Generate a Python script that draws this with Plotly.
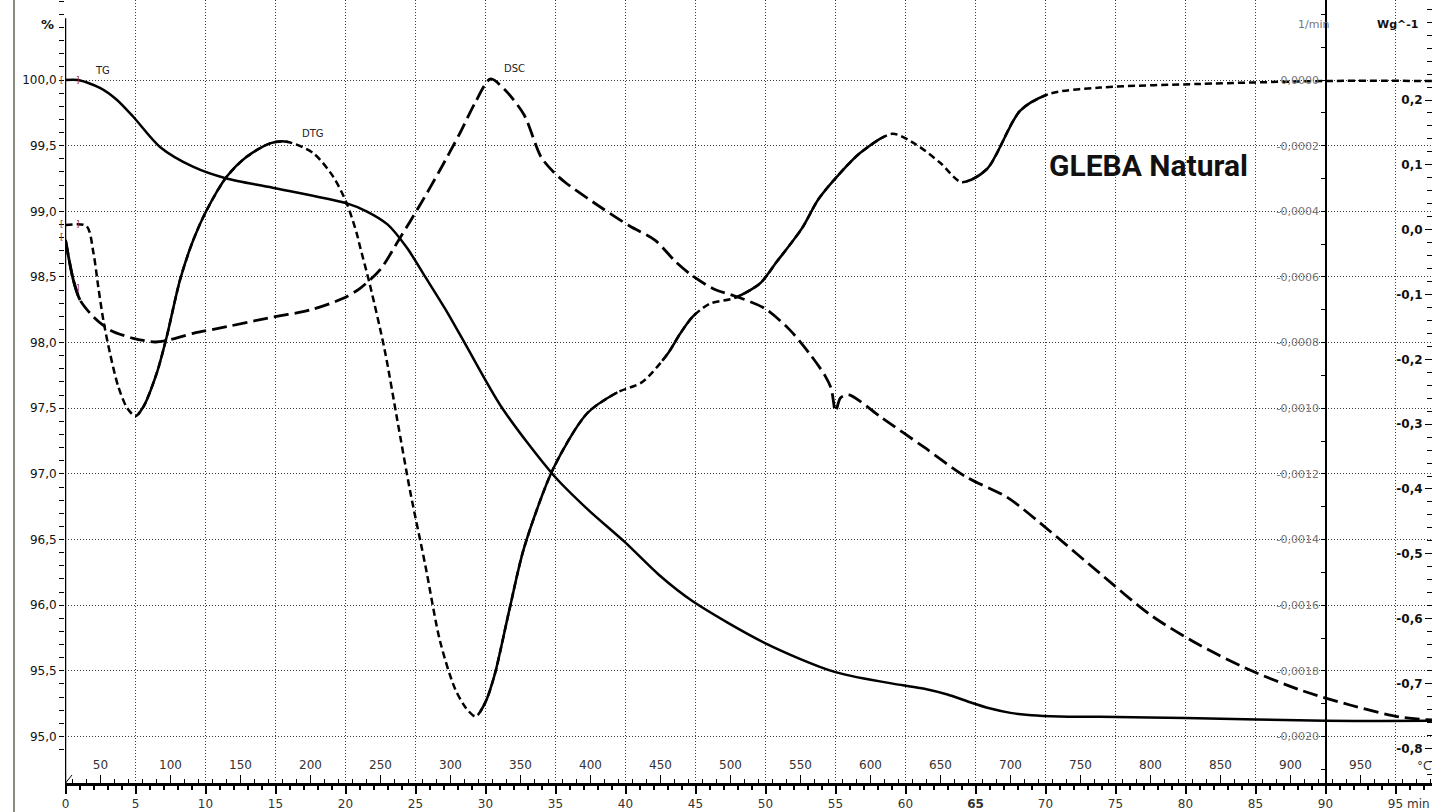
import plotly.graph_objects as go

# ------------------------------------------------------------------ data
TG_TIME = [0, 0.9, 2.46, 3.66, 4.84, 6.75, 9.1, 11.5, 14.8, 20.1, 21.5, 23.0, 24.4, 25.7,
           27.1, 28.5, 31.2, 34.86, 37.3, 39.96, 42.4, 44.8, 50.0, 55.0, 59.8, 61.5, 63.0,
           64.5, 66.0, 67.5, 69.0, 71.0, 73.9, 80.0, 90.0, 97.6]
TG_PCT = [100.0, 100.0, 99.94, 99.85, 99.72, 99.49, 99.34, 99.25, 99.18, 99.06, 99.0, 98.9,
          98.72, 98.5, 98.26, 98.0, 97.5, 96.99, 96.73, 96.48, 96.23, 96.03, 95.71, 95.49,
          95.39, 95.36, 95.32, 95.265, 95.215, 95.18, 95.162, 95.153, 95.15, 95.14, 95.12,
          95.12]

DTG_TIME = [0, 1.5, 2.0, 2.34, 2.7, 3.18, 3.77, 4.4, 5.0, 5.56, 6.51, 7.23, 8.18, 9.13, 10.09,
            11.51, 12.94, 14.61, 15.8, 17.7, 19.13, 20.09, 20.8, 21.04, 21.75, 22.8, 23.7,
            24.6, 25.7, 26.75, 27.8, 28.6, 29.3, 30.0, 30.66, 31.7, 32.75, 34.86, 37.25,
            39.4, 41.2, 42.96, 43.9, 44.8, 46.0, 47.8, 49.6, 50.8, 52.6, 53.8, 55.3, 56.8,
            59.06, 60.7, 62.5, 64.0, 65.8, 68.2, 70.3, 73.9, 81.0, 90.0, 97.6]
DTG_RATE = [-0.000442, -0.000445, -0.000528, -0.000630, -0.000731, -0.000833, -0.000934,
            -0.000999, -0.001024, -0.000996, -0.000894, -0.000782, -0.000609, -0.000487,
            -0.000396, -0.000295, -0.000234, -0.000193, -0.000188, -0.000223, -0.000295,
            -0.000376, -0.000467, -0.000508, -0.000625, -0.000823, -0.001036, -0.001249,
            -0.001478, -0.001709, -0.001852, -0.001913, -0.001939, -0.001895, -0.001811,
            -0.001615, -0.001426, -0.001182, -0.001016, -0.000952, -0.000920, -0.000837,
            -0.000773, -0.000721, -0.000682, -0.000664, -0.000620, -0.000554, -0.000452,
            -0.000362, -0.000285, -0.000221, -0.000164, -0.000195, -0.000253, -0.000311,
            -0.000272, -0.000093, -0.000042, -0.000023, -0.000012, -0.000003, -0.000003]

DSC_TIME = [0, 0.56, 1.04, 1.99, 3.18, 4.84, 6.39, 7.1, 9.13, 11.51, 14.37, 17.46, 19.84,
            21.04, 22.46, 23.89, 25.32, 26.75, 28.18, 29.25, 30.36, 31.4, 32.75, 33.96,
            34.86, 35.75, 38.2, 40.3, 42.1, 43.6, 44.8, 46.3, 47.8, 49.89, 51.7, 53.2, 54.25,
            54.7, 55.0, 55.35, 55.9, 58.3, 61.3, 64.3, 67.3, 70.3, 73.9, 77.5, 81.0, 84.6,
            88.2, 91.75, 95.3, 97.6]
DSC_WG = [-0.0160, -0.0777, -0.1085, -0.1343, -0.1548, -0.1676, -0.1733, -0.1717, -0.1599,
          -0.1497, -0.1367, -0.1239, -0.1059, -0.0904, -0.0622, -0.0129, 0.0380, 0.0920,
          0.1491, 0.1954, 0.2324, 0.2154, 0.1773, 0.1124, 0.0889, 0.0720, 0.0350, 0.0056,
          -0.0160, -0.0499, -0.0715, -0.0915, -0.1023, -0.1208, -0.1538, -0.1927, -0.2251,
          -0.2455, -0.2803, -0.2597, -0.2544, -0.2900, -0.3352, -0.3810, -0.4134, -0.4648,
          -0.5304, -0.5944, -0.6407, -0.6792, -0.7101, -0.7332, -0.7517, -0.7563]

TIME_TICKS = [0, 5, 10, 15, 20, 25, 30, 35, 40, 45, 50, 55, 60, 65, 70, 75, 80, 85, 90, 95]
TIME_TICK_LABELS = ["0", "5", "10", "15", "20", "25", "30", "35", "40", "45", "50", "55",
                    "60", "<b>65</b>", "70", "75", "80", "85", "90", "95"]
TEMP_TICKS = [50, 100, 150, 200, 250, 300, 350, 400, 450, 500, 550, 600, 650, 700, 750,
              800, 850, 900, 950]
TEMP_TICK_LABELS = ["50", "100", "150", "200", "250", "300", "350", "400", "450", "500",
                    "550", "600", "650", "700", "750", "800", "850", "900", "950"]
TG_TICKS = [95.0, 95.5, 96.0, 96.5, 97.0, 97.5, 98.0, 98.5, 99.0, 99.5, 100.0]
TG_TICK_LABELS = ["95,0", "95,5", "96,0", "96,5", "97,0", "97,5", "98,0", "98,5", "99,0",
                  "99,5", "100,0"]
DTG_TICKS = [0.0, -0.0002, -0.0004, -0.0006, -0.0008, -0.0010, -0.0012, -0.0014, -0.0016,
             -0.0018, -0.0020]
DTG_TICK_LABELS = ["0,0000", "-0,0002", "-0,0004", "-0,0006", "-0,0008", "-0,0010",
                   "-0,0012", "-0,0014", "-0,0016", "-0,0018", "-0,0020"]
DSC_TICKS = [0.2, 0.1, 0.0, -0.1, -0.2, -0.3, -0.4, -0.5, -0.6, -0.7, -0.8]
DSC_TICK_LABELS = ["0,2", "0,1", "0,0", "-0,1", "-0,2", "-0,3", "-0,4", "-0,5", "-0,6",
                   "-0,7", "-0,8"]
T_START_C = 25.0      # temperature at t = 0
HEAT_RATE = 10.0      # K/min

# ------------------------------------------------------------------ geometry / style
W, H = 1432, 812
ML, MR, MT, MB = 65, 0, 0, 29
PW, PH = W - ML - MR, H - MT - MB
X0_PX, PX_PER_MIN = 65.5, 14.0
X_RANGE = [(ML - X0_PX) / PX_PER_MIN, (W - MR - X0_PX) / PX_PER_MIN]
T_RANGE = [T_START_C + HEAT_RATE * X_RANGE[0], T_START_C + HEAT_RATE * X_RANGE[1]]
Y_RANGE = [100 - (PH - 80) / 131.3, 100 + 80 / 131.3]
Y2_RANGE = [-(PH - 80) / 65.65 * 0.0002, 80 / 65.65 * 0.0002]
Y3_RANGE = [0.2 - (PH - 100) / 648.3, 0.2 + 100 / 648.3]

SMOOTH = 0.8
DTG_SOLID_SPANS = [(5.2, 15.9), (29.6, 39.4), (42.6, 45.0), (47.8, 58.5), (64.3, 70.0)]
DSC_SOLID_SPANS = [(0.0, 1.04)]

FONT = "DejaVu Sans"


def px2paper(x, y):
    return (x - ML) / PW, 1 - (y - MT) / PH


# --- reproduce plotly's spline path to place solid stretches with a dash pattern ---
def _tangent(p0, p1, p2, s):
    d1x, d1y = p0[0] - p1[0], p0[1] - p1[1]
    d2x, d2y = p2[0] - p1[0], p2[1] - p1[1]
    d1a = (d1x * d1x + d1y * d1y) ** 0.25
    d2a = (d2x * d2x + d2y * d2y) ** 0.25
    numx = (d2a * d2a * d1x - d1a * d1a * d2x) * s
    numy = (d2a * d2a * d1y - d1a * d1a * d2y) * s
    den1 = 3 * d2a * (d1a + d2a)
    den2 = 3 * d1a * (d1a + d2a)
    a = (p1[0] + (numx / den1 if den1 else 0), p1[1] + (numy / den1 if den1 else 0))
    b = (p1[0] - (numx / den2 if den2 else 0), p1[1] - (numy / den2 if den2 else 0))
    return a, b


def _bez(ctrl, u):
    if len(ctrl) == 3:
        (x0, y0), (x1, y1), (x2, y2) = ctrl
        a, b, c = (1 - u) ** 2, 2 * (1 - u) * u, u * u
        return a * x0 + b * x1 + c * x2, a * y0 + b * y1 + c * y2
    (x0, y0), (x1, y1), (x2, y2), (x3, y3) = ctrl
    a, b, c, d = (1 - u) ** 3, 3 * (1 - u) ** 2 * u, 3 * (1 - u) * u * u, u ** 3
    return (a * x0 + b * x1 + c * x2 + d * x3, a * y0 + b * y1 + c * y2 + d * y3)


def span_dash(ts, vs, yrange, spans, s=SMOOTH):
    pts = [((t - X_RANGE[0]) / (X_RANGE[1] - X_RANGE[0]) * PW,
            (yrange[1] - v) / (yrange[1] - yrange[0]) * PH) for t, v in zip(ts, vs)]
    n = len(pts)
    tg = [_tangent(pts[i - 1], pts[i], pts[i + 1], s) for i in range(1, n - 1)]
    pieces = [[pts[0], tg[0][0], pts[1]]]
    for i in range(2, n - 1):
        pieces.append([pts[i - 1], tg[i - 2][1], tg[i - 1][0], pts[i]])
    pieces.append([pts[n - 2], tg[n - 3][1], pts[n - 1]])
    samples = [(pts[0][0], 0.0)]
    length, prev = 0.0, pts[0]
    for c in pieces:
        for k in range(1, 81):
            q = _bez(c, k / 80)
            length += ((q[0] - prev[0]) ** 2 + (q[1] - prev[1]) ** 2) ** 0.5
            samples.append((q[0], length))
            prev = q

    def at(t):
        xp = (t - X_RANGE[0]) / (X_RANGE[1] - X_RANGE[0]) * PW
        for (xa, la), (xb, lb) in zip(samples, samples[1:]):
            if xa <= xp <= xb:
                return la + (lb - la) * ((xp - xa) / (xb - xa) if xb > xa else 0)
        return samples[-1][1] if xp > samples[0][0] else 0.0

    arr, pos = [0.0], 0.0
    for a, b in spans:
        la, lb = at(a), at(b)
        arr += [la - pos, lb - la]
        pos = lb
    arr.append(length + 5000 - pos)
    return ",".join("%.2fpx" % max(v, 0) for v in arr)


fig = go.Figure()

common = dict(mode="lines", hoverinfo="skip", showlegend=False)
# TG
fig.add_trace(go.Scatter(x=TG_TIME, y=TG_PCT, xaxis="x", yaxis="y",
                         line=dict(color="black", width=2.5, shape="spline",
                                   smoothing=SMOOTH, simplify=False), **common))
# DTG (dashed, with solid rising stretches)
fig.add_trace(go.Scatter(x=DTG_TIME, y=DTG_RATE, xaxis="x", yaxis="y2",
                         line=dict(color="black", width=2.5, dash="7px,4px", shape="spline",
                                   smoothing=SMOOTH, simplify=False), **common))
fig.add_trace(go.Scatter(x=DTG_TIME, y=DTG_RATE, xaxis="x", yaxis="y2",
                         line=dict(color="black", width=2.5, shape="spline",
                                   smoothing=SMOOTH, simplify=False,
                                   dash=span_dash(DTG_TIME, DTG_RATE, Y2_RANGE,
                                                  DTG_SOLID_SPANS)), **common))
# DSC
fig.add_trace(go.Scatter(x=DSC_TIME, y=DSC_WG, xaxis="x", yaxis="y3",
                         line=dict(color="black", width=2.8, dash="15px,6px", shape="spline",
                                   smoothing=SMOOTH, simplify=False), **common))
fig.add_trace(go.Scatter(x=DSC_TIME, y=DSC_WG, xaxis="x", yaxis="y3",
                         line=dict(color="black", width=2.8, shape="spline",
                                   smoothing=SMOOTH, simplify=False,
                                   dash=span_dash(DSC_TIME, DSC_WG, Y3_RANGE,
                                                  DSC_SOLID_SPANS)), **common))
# invisible trace to activate the temperature axis
fig.add_trace(go.Scatter(x=[T_RANGE[0]], y=[Y_RANGE[0] - 10], mode="markers", xaxis="x2",
                         yaxis="y", marker=dict(opacity=0), hoverinfo="skip",
                         showlegend=False))

GRID = dict(showgrid=True, gridcolor="#3a3a3a", gridwidth=1, griddash="1px,2px")

fig.update_layout(
    width=W, height=H, margin=dict(l=ML, r=MR, t=MT, b=MB, autoexpand=False),
    paper_bgcolor="white", plot_bgcolor="white", hovermode=False, showlegend=False,
    xaxis=dict(range=X_RANGE, tickvals=TIME_TICKS, ticktext=TIME_TICK_LABELS,
               ticks="outside", ticklen=8, tickwidth=2, tickcolor="black",
               minor=dict(dtick=1, tick0=0, ticks="outside", ticklen=4, tickwidth=2,
                          tickcolor="black", showgrid=False),
               showline=True, linecolor="black", linewidth=3, zeroline=False,
               tickfont=dict(family=FONT, size=12, color="#333"), **GRID),
    xaxis2=dict(range=T_RANGE, overlaying="x", anchor="y", side="bottom",
                tickvals=TEMP_TICKS, ticktext=TEMP_TICK_LABELS,
                ticks="inside", ticklabelposition="inside", ticklen=8, tickwidth=1,
                tickcolor="black", ticklabelstandoff=3,
                minor=dict(dtick=10, tick0=0, ticks="inside", ticklen=4, tickwidth=1,
                           tickcolor="black", showgrid=False),
                showline=False, showgrid=False, zeroline=False,
                tickfont=dict(family=FONT, size=12, color="#333")),
    yaxis=dict(range=Y_RANGE, tickvals=TG_TICKS, ticktext=TG_TICK_LABELS,
               ticks="outside", ticklen=5, tickwidth=1, tickcolor="black",
               minor=dict(dtick=0.1, tick0=95, ticks="outside", ticklen=5, tickwidth=1,
                          tickcolor="black", showgrid=False),
               showline=False, zeroline=False,
               tickfont=dict(family=FONT, size=12, color="#111"), **GRID),
    yaxis2=dict(range=Y2_RANGE, overlaying="y", anchor="free", position=(1326 - ML) / PW,
                side="left", tickvals=DTG_TICKS, ticktext=DTG_TICK_LABELS,
                ticks="outside", ticklen=4, tickwidth=1, tickcolor="black",
                minor=dict(dtick=0.0001, tick0=0, ticks="outside", ticklen=4, tickwidth=1,
                           tickcolor="black", showgrid=False),
                showline=True, linecolor="black", linewidth=1.5, showgrid=False,
                zeroline=False, tickfont=dict(family=FONT, size=11, color="#777")),
    yaxis3=dict(range=Y3_RANGE, overlaying="y", anchor="free", position=1.0,
                side="left", tickvals=DSC_TICKS, ticktext=DSC_TICK_LABELS,
                ticks="outside", ticklen=7, tickwidth=1, tickcolor="black",
                minor=dict(dtick=0.02, tick0=0, ticks="outside", ticklen=5, tickwidth=1,
                           tickcolor="black", showgrid=False),
                showline=True, linecolor="black", linewidth=1, showgrid=False,
                zeroline=False, tickfont=dict(family=FONT, size=12, color="#111",
                                              weight="bold")),
)

# left TG axis line (stops a little below the top)
fig.add_shape(type="line", xref="x", yref="y", x0=0, x1=0, y0=Y_RANGE[0], y1=100.47,
              line=dict(color="black", width=1.5))
# window border at the far left
bx, _ = px2paper(14, 0)
fig.add_shape(type="line", xref="paper", yref="paper", x0=bx, x1=bx, y0=-MB / PH, y1=1,
              line=dict(color="#8a8a80", width=2))
# corner mark
cx0, cy0 = px2paper(65.5, 783)
cx1, cy1 = px2paper(72, 775)
fig.add_shape(type="line", xref="paper", yref="paper", x0=cx0, y0=cy0, x1=cx1, y1=cy1,
              line=dict(color="black", width=1))


def label(text, x, y, size=11, color="#222", bold=False, family=FONT, xanchor="center"):
    xp, yp = px2paper(x, y)
    fig.add_annotation(text=text, x=xp, y=yp, xref="paper", yref="paper", showarrow=False,
                       xanchor=xanchor, yanchor="middle",
                       font=dict(family=family, size=size, color=color,
                                 weight="bold" if bold else "normal"))


label("%", 47, 24, size=13, color="#111", bold=True)
label("1/min", 1313, 24, size=11, color="#777")
label("Wg^-1", 1397, 24, size=11, color="#111", bold=True)
label("min", 1418, 804, size=12, color="#333")
label("°C", 1424, 766, size=12, color="#333")
label("TG", 102, 71, size=10, color="#222")
label("DTG", 313, 133, size=10, color="#222")
label("DSC", 514, 69, size=10, color="#222")
label("GLEBA Natural", 1148, 165, size=30, color="#111", bold=True, family="Roboto")

# red start/end markers of the evaluated ranges
for txt, x, y in [("[", 62, 80), ("]", 78, 80), ("[", 62, 224), ("]", 78, 224),
                  ("[", 62, 237), ("]", 78, 288)]:
    label(txt, x, y, size=9, color="#a03030")

fig.write_html("out.html")
